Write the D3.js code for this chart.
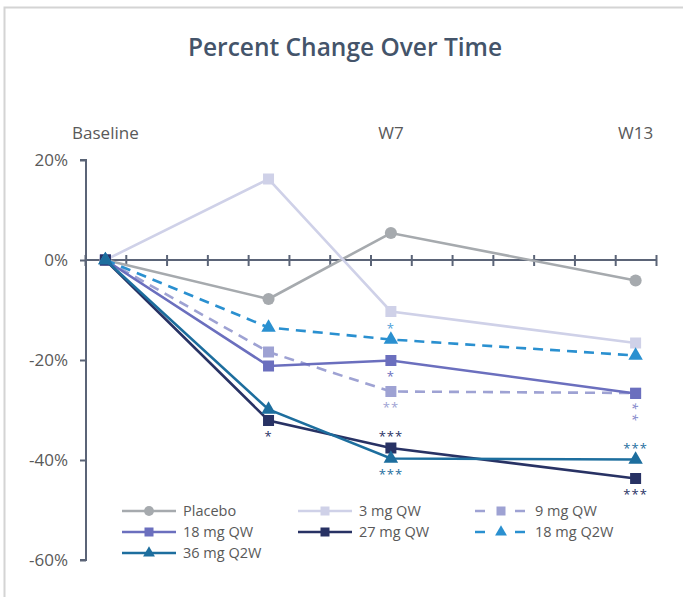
<!DOCTYPE html>
<html>
<head>
<meta charset="utf-8">
<script src="https://cdn.jsdelivr.net/npm/d3@7"></script>
<style>
  html, body { margin: 0; padding: 0; background: #fff; }
  svg { display: block; }
</style>
</head>
<body>
<svg id="chart" width="683" height="597"></svg>
<script>
// ---- data ----
const categories = ["Baseline","W1","W2","W3","W4","W5","W6","W7","W8","W9","W10","W11","W12","W13"];
const tickLabels = ["Baseline","W7","W13"];
const timepoints = ["Baseline","W4","W7","W13"];
const yTicks = [20, 0, -20, -40, -60];

const seriesNames = ["Placebo","3 mg QW","9 mg QW","18 mg QW","27 mg QW","18 mg Q2W","36 mg Q2W"];
const placebo  = [0,  -7.8,   5.4,  -4.1];
const mg3QW    = [0,  16.2, -10.3, -16.6];
const mg9QW    = [0, -18.4, -26.3, -26.6];
const mg18QW   = [0, -21.2, -20.1, -26.7];
const mg27QW   = [0, -32.1, -37.6, -43.7];
const mg18Q2W  = [0, -13.5, -15.9, -19.1];
const mg36Q2W  = [0, -29.9, -39.7, -39.9];
const seriesValues = [placebo, mg3QW, mg9QW, mg18QW, mg27QW, mg18Q2W, mg36Q2W];

// significance marks: series index, timepoint, text, side
const sigSeries = [4, 5, 3, 2, 4, 6, 4, 6];
const sigTime   = ["W4","W7","W7","W7","W7","W7","W13","W13"];
const sigText   = ["*","*","*","**","***","***","***","***"];
const sigSide   = ["below","above","below","below","above","below","below","above"];
// stacked marks below the overlapping 18 mg QW / 9 mg QW points at W13
const stackSeries = [3, 2];
const stackTime = "W13";
const stackText = "**";

// ---- styles ----
const colors  = ["#A6AAAE","#CFD1E8","#9EA2D3","#6B6FBE","#283264","#2A90D0","#1D6E9E"];
const dashed  = [false,false,true,false,false,true,false];
const markers = ["circle","square","square","square","square","triangle","triangle"];
const sigColors = ["#283264","#4EA0D8","#6B6FBE","#9EA2D3","#283264","#1D6E9E","#283264","#1D6E9E"];
const stackColor = "#868ACB";

const svg = d3.select("#chart");
const W = 683, H = 597;
svg.append("rect").attr("width", W).attr("height", H).attr("fill", "#fff");
// frame
svg.append("rect").attr("x", 4.5).attr("y", 7.5).attr("width", 760).attr("height", 700)
  .attr("fill", "none").attr("stroke", "#D4D4D4").attr("stroke-width", 2);

const font = "'Open Sans', sans-serif";

// title
svg.append("text").attr("x", 345).attr("y", 56).attr("text-anchor", "middle")
  .attr("font-family", font).attr("font-weight", 600)
  .attr("font-size", 24.5).attr("fill", "#44546A").text("Percent Change Over Time");

const x = d3.scaleLinear().domain([0, categories.length]).range([85, 656]);
const cx = c => x(categories.indexOf(c) + 0.5);
const y = d3.scaleLinear().domain([-60, 20]).range([560, 160]);

const axisColor = "#5B6477";
const labelColor = "#595959";

// y axis
const yAxis = svg.append("g").attr("transform", "translate(86,0)")
  .call(d3.axisLeft(y).tickValues(yTicks).tickSize(6).tickPadding(12).tickFormat(d => d + "%"));
yAxis.select(".domain").attr("stroke", axisColor).attr("stroke-width", 2)
  .attr("d", `M-6,${y(20)}H0V${y(-60)}H-6`);
yAxis.selectAll(".tick line").attr("stroke", axisColor).attr("stroke-width", 2);
yAxis.selectAll(".tick text").attr("font-family", font).attr("font-size", 17).attr("fill", labelColor);

// x axis at 0 with crossing ticks
const xAxis = svg.append("g").attr("transform", `translate(0,${y(0)})`)
  .call(d3.axisBottom(x).tickValues(d3.range(0, categories.length + 1)).tickSize(5).tickFormat(""));
xAxis.select(".domain").attr("stroke", axisColor).attr("stroke-width", 2)
  .attr("d", `M${x(0)},0H${x(categories.length)}`);
xAxis.selectAll(".tick line").attr("stroke", axisColor).attr("stroke-width", 2).attr("y1", -5).attr("y2", 6);

// top category labels
const xTop = d3.scaleBand().domain(categories).range([85, 656]);
const topAxis = svg.append("g").attr("transform", "translate(0,144)")
  .call(d3.axisTop(xTop).tickValues(tickLabels).tickSize(0).tickPadding(5));
topAxis.select(".domain").remove();
topAxis.selectAll(".tick text").attr("font-family", font).attr("font-size", 17).attr("fill", labelColor);

function drawMarker(g, type, px, py, size, color) {
  if (type === "circle") {
    g.append("circle").attr("cx", px).attr("cy", py).attr("r", size * 0.55).attr("fill", color);
  } else if (type === "square") {
    g.append("rect").attr("x", px - size / 2).attr("y", py - size / 2)
      .attr("width", size).attr("height", size).attr("fill", color);
  } else {
    const s = d3.symbol().type(d3.symbolTriangle).size(size * size * 0.75);
    g.append("path").attr("d", s()).attr("transform", `translate(${px},${py})`).attr("fill", color);
  }
}

// lines
const line = d3.line().x((d, i) => cx(timepoints[i])).y(d => y(d));
const plot = svg.append("g");
seriesValues.forEach((vals, si) => {
  const g = plot.append("g");
  g.append("path").datum(vals).attr("d", line).attr("fill", "none")
    .attr("stroke", colors[si]).attr("stroke-width", 2.6)
    .attr("stroke-dasharray", dashed[si] ? "10,7" : null);
  vals.forEach((v, i) => drawMarker(g, markers[si], cx(timepoints[i]), y(v), 11, colors[si]));
});

// significance marks
const sigFs = 13;
sigText.forEach((t, k) => {
  const v = seriesValues[sigSeries[k]][timepoints.indexOf(sigTime[k])];
  const off = (sigSide[k] === "above" ? -14 : 13);
  svg.append("text").attr("x", cx(sigTime[k])).attr("y", y(v) + off + 7)
    .attr("text-anchor", "middle").attr("font-family", font).attr("font-size", sigFs)
    .attr("letter-spacing", 1).attr("fill", sigColors[k]).text(t);
});
// vertically stacked marks: one text turned upright
{
  const ti = timepoints.indexOf(stackTime);
  const vLow = d3.min(stackSeries, s => seriesValues[s][ti]);
  const cy = y(vLow) + 18.5;
  svg.append("text")
    .attr("transform", `translate(${cx(stackTime)},${cy}) rotate(90)`)
    .attr("x", 2).attr("y", sigFs * 0.56)
    .attr("text-anchor", "middle").attr("font-family", font).attr("font-size", sigFs)
    .attr("letter-spacing", 4).attr("fill", stackColor).text(stackText);
}

// legend
const legX = [122, 298, 475];
const legY = [511, 532, 553];
seriesNames.forEach((name, si) => {
  const col = si % 3, row = Math.floor(si / 3);
  const lx = legX[col], ly = legY[row];
  const g = svg.append("g");
  if (dashed[si]) {
    g.append("line").attr("x1", lx).attr("x2", lx + 10).attr("y1", ly).attr("y2", ly)
      .attr("stroke", colors[si]).attr("stroke-width", 2.5);
    g.append("line").attr("x1", lx + 40).attr("x2", lx + 50).attr("y1", ly).attr("y2", ly)
      .attr("stroke", colors[si]).attr("stroke-width", 2.5);
  } else {
    g.append("line").attr("x1", lx).attr("x2", lx + 54).attr("y1", ly).attr("y2", ly)
      .attr("stroke", colors[si]).attr("stroke-width", 2.5);
  }
  const mx = dashed[si] ? lx + 26 : lx + 27;
  drawMarker(g, markers[si], mx, ly, 9, colors[si]);
  g.append("text").attr("x", dashed[si] ? lx + 60 : lx + 61).attr("y", ly + 5)
    .attr("font-family", font).attr("font-size", 14.5).attr("fill", labelColor).text(name);
});
</script>
</body>
</html>
